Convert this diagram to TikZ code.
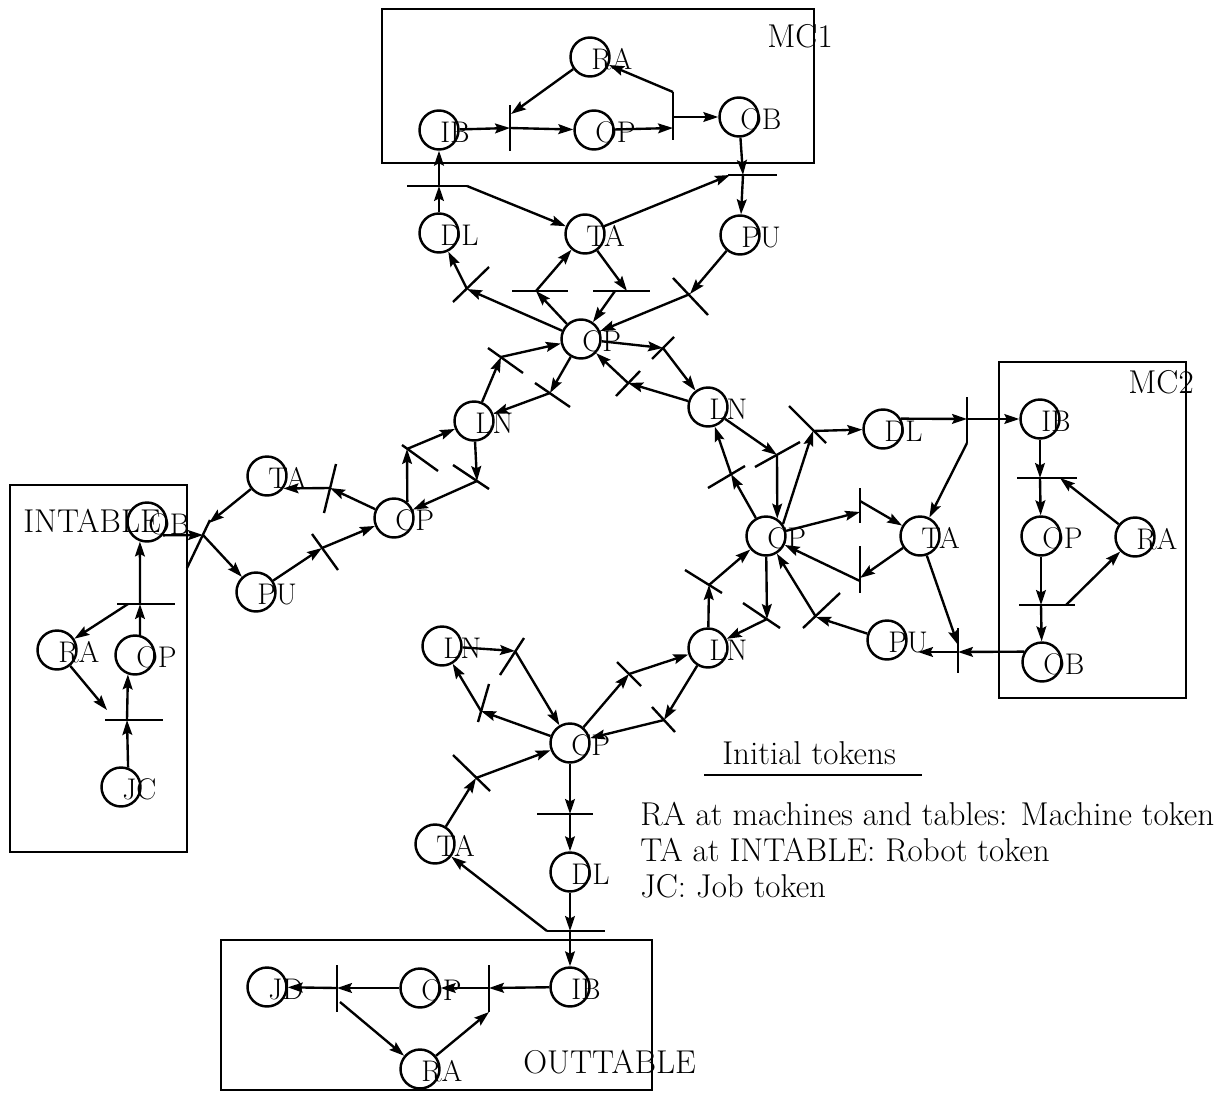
\documentclass[tikz,border=0pt]{standalone}
\usepackage{fontspec}
\usetikzlibrary{arrows.meta}
\tikzset{
  pl/.style={circle, draw, line width=1.4pt, minimum size=0.78cm, inner sep=0pt},
  plabel/.style={anchor=base west, inner sep=0pt, font=\fontsize{17}{20}\selectfont},
  pa/.style={line width=1.35pt, -{Stealth[length=8.5pt,width=5.6pt,inset=1.4pt]}},
  tb/.style={line width=1.35pt},
  pbox/.style={line width=1.1pt},
  txt/.style={anchor=base west, inner sep=0pt, font=\fontsize{18.8}{22}\selectfont},
}
\newcommand\mkplace[4]{%
  \node[pl] (#1) at (#2,#3) {};
  \node[plabel] (#1-l) at ({#2+1},{#3+12}) {#4};}
\begin{document}
\begin{tikzpicture}[x=0.02cm,y=-0.02cm]
\useasboundingbox (0,0) rectangle (1227,1092);
% ---------------- boxes ----------------
\draw[pbox] (382,9) rectangle (814,163);
\draw[pbox] (10,485) rectangle (187,852);
\draw[pbox] (999,362) rectangle (1186,698);
\draw[pbox] (221,940) rectangle (652,1090);
\node[txt] (mc1l) at (767,47) {MC1};
\node[txt] (mc2l) at (1128,393) {MC2};
\node[txt] (intl) at (23,532) {INTABLE};
\node[txt] (outl) at (523,1073) {OUTTABLE};
% ---------------- places ----------------
\mkplace{RA1}{590}{57}{RA}
\mkplace{IB1}{439}{130}{IB}
\mkplace{OP1}{594}{130}{OP}
\mkplace{OB1}{739}{117}{OB}
\mkplace{DL1}{439}{233}{DL}
\mkplace{TA1}{585}{234}{TA}
\mkplace{PU1}{740}{235}{PU}
\mkplace{CPt}{581}{339}{CP}
\mkplace{LNul}{474}{421}{LN}
\mkplace{LNur}{708}{407}{LN}
\mkplace{CPl}{394}{518}{CP}
\mkplace{CPr}{766}{536}{CP}
\mkplace{LNll}{442}{646}{LN}
\mkplace{LNlr}{708}{648}{LN}
\mkplace{CPb}{570}{743}{CP}
\mkplace{TAl}{267}{476}{TA}
\mkplace{PUl}{256}{592}{PU}
\mkplace{DLr}{883}{429}{DL}
\mkplace{TAr}{920}{536}{TA}
\mkplace{PUr}{887}{640}{PU}
\mkplace{TAb}{435}{844}{TA}
\mkplace{DLb}{570}{872}{DL}
\mkplace{OBi}{147}{522}{OB}
\mkplace{RAi}{57}{650}{RA}
\mkplace{OPi}{135}{655}{OP}
\mkplace{JCi}{121}{787}{JC}
\mkplace{IBr}{1040}{419}{IB}
\mkplace{OPr}{1041}{536}{OP}
\mkplace{RAr}{1135}{537}{RA}
\mkplace{OBr}{1042}{662}{OB}
\mkplace{IBo}{570}{987}{IB}
\mkplace{OPo}{420}{988}{OP}
\mkplace{JDo}{267}{987}{JD}
\mkplace{RAo}{420}{1069}{RA}
% ---------------- transitions (coordinates) ----------------
\coordinate (t1a) at (510,105); \coordinate (t1b) at (510,151); \coordinate (t1j) at (510,128); \coordinate (t1r) at (511,114);
\coordinate (t2a) at (673,92); \coordinate (t2b) at (673,140); \coordinate (t2i) at (673,128); \coordinate (t2o) at (673,117);
\coordinate (t3a) at (407,186); \coordinate (t3b) at (467,186); \coordinate (t3j) at (439,186);
\coordinate (t4a) at (728,175); \coordinate (t4b) at (777,175); \coordinate (t4l) at (730,175); \coordinate (t4j) at (743,175);
\coordinate (t5a) at (453,302); \coordinate (t5b) at (489,267); \coordinate (t5j) at (467,289);
\coordinate (t6a) at (512,291); \coordinate (t6b) at (568,291); \coordinate (t6j) at (536,291);
\coordinate (t7a) at (593,291); \coordinate (t7b) at (650,291); \coordinate (t7i) at (627,291); \coordinate (t7o) at (615,291);
\coordinate (t8a) at (673,278); \coordinate (t8b) at (708,315); \coordinate (t8j) at (690,294);
\coordinate (t9a) at (652,359); \coordinate (t9b) at (674,337); \coordinate (t9j) at (663,348);
\coordinate (t10a) at (616,396); \coordinate (t10b) at (640,371); \coordinate (t10j) at (628,383);
\coordinate (t11a) at (488,348); \coordinate (t11b) at (523,373); \coordinate (t11j) at (501,357);
\coordinate (t12a) at (535,383); \coordinate (t12b) at (570,407); \coordinate (t12j) at (550,393);
\coordinate (t13a) at (402,445); \coordinate (t13b) at (438,471); \coordinate (t13j) at (407,449);
\coordinate (t14a) at (453,465); \coordinate (t14b) at (489,489); \coordinate (t14j) at (477,481);
\coordinate (t15a) at (336,464); \coordinate (t15b) at (324,513); \coordinate (t15j) at (330,488);
\coordinate (t16a) at (312,534); \coordinate (t16b) at (338,570); \coordinate (t16j) at (322,548);
\coordinate (t17a) at (187,568); \coordinate (t17b) at (210,520); \coordinate (t17j) at (203,535); \coordinate (t17t) at (209,523);
\coordinate (t18a) at (117,604); \coordinate (t18b) at (175,604); \coordinate (t18j) at (140,604); \coordinate (t18k) at (128,604);
\coordinate (t19a) at (105,720); \coordinate (t19b) at (163,720); \coordinate (t19j) at (127,720); \coordinate (t19r) at (107,710);
\coordinate (t20a) at (789,406); \coordinate (t20b) at (826,443); \coordinate (t20j) at (813,431);
\coordinate (t21a) at (755,467); \coordinate (t21b) at (800,442); \coordinate (t21j) at (777,455);
\coordinate (t22a) at (708,488); \coordinate (t22b) at (745,466); \coordinate (t22j) at (731,474);
\coordinate (t23a) at (860,488); \coordinate (t23b) at (860,523); \coordinate (t23i) at (860,512); \coordinate (t23o) at (860,501);
\coordinate (t24a) at (860,546); \coordinate (t24b) at (860,593); \coordinate (t24i) at (860,578); \coordinate (t24o) at (860,581);
\coordinate (t25a) at (967,397); \coordinate (t25b) at (967,443); \coordinate (t25j) at (967,419);
\coordinate (t26a) at (1017,478); \coordinate (t26b) at (1077,478); \coordinate (t26j) at (1040,478); \coordinate (t26r) at (1060,478);
\coordinate (t27a) at (1019,605); \coordinate (t27b) at (1075,605); \coordinate (t27j) at (1041,605); \coordinate (t27r) at (1066,605);
\coordinate (t28a) at (958,628); \coordinate (t28b) at (958,673); \coordinate (t28j) at (958,652); \coordinate (t28t) at (958,645); \coordinate (t28p) at (918,652);
\coordinate (t29a) at (803,628); \coordinate (t29b) at (840,593); \coordinate (t29j) at (816,617);
\coordinate (t30a) at (743,603); \coordinate (t30b) at (780,628); \coordinate (t30j) at (767,619);
\coordinate (t31a) at (685,570); \coordinate (t31b) at (722,593); \coordinate (t31j) at (709,585);
\coordinate (t32a) at (500,675); \coordinate (t32b) at (524,638); \coordinate (t32j) at (515,651);
\coordinate (t33a) at (478,722); \coordinate (t33b) at (489,684); \coordinate (t33j) at (481,711);
\coordinate (t34a) at (617,662); \coordinate (t34b) at (641,686); \coordinate (t34j) at (629,674);
\coordinate (t35a) at (652,707); \coordinate (t35b) at (675,732); \coordinate (t35j) at (664,720);
\coordinate (t36a) at (453,755); \coordinate (t36b) at (490,791); \coordinate (t36j) at (476,778);
\coordinate (t37a) at (537,814); \coordinate (t37b) at (593,814); \coordinate (t37j) at (570,814);
\coordinate (t38a) at (547,931); \coordinate (t38b) at (605,931); \coordinate (t38j) at (570,931);
\coordinate (t39a) at (489,965); \coordinate (t39b) at (489,1012); \coordinate (t39j) at (489,988);
\coordinate (t40a) at (337,965); \coordinate (t40b) at (337,1012); \coordinate (t40j) at (337,988); \coordinate (t40d) at (340,1002);
\foreach \t in {1,...,40} {\draw[tb] (t\t a) -- (t\t b);}
% ---------------- arcs ----------------
% MC1
\draw[pa] (IB1) -- (t1j);
\draw[pa] (RA1) -- (t1r);
\draw[pa] (t1j) -- (OP1);
\draw[pa] (OP1) -- (t2i);
\draw[pa] (t2o) -- (OB1);
\draw[pa] (t2a) -- (RA1);
\draw[pa] (DL1) -- (t3j);
\draw[pa] (t3j) -- (IB1);
\draw[pa] (t3b) -- (TA1);
\draw[pa] (TA1) -- (t4l);
\draw[pa] (OB1) -- (t4j);
\draw[pa] (t4j) -- (PU1);
% top CP
\draw[pa] (CPt) -- (t5j);
\draw[pa] (t5j) -- (DL1);
\draw[pa] (CPt) -- (t6j);
\draw[pa] (t6j) -- (TA1);
\draw[pa] (TA1) -- (t7i);
\draw[pa] (t7o) -- (CPt);
\draw[pa] (PU1) -- (t8j);
\draw[pa] (t8j) -- (CPt);
\draw[pa] (CPt) -- (t9j);
\draw[pa] (t9j) -- (LNur);
\draw[pa] (LNur) -- (t10j);
\draw[pa] (t10j) -- (CPt);
\draw[pa] (LNul) -- (t11j);
\draw[pa] (t11j) -- (CPt);
\draw[pa] (CPt) -- (t12j);
\draw[pa] (t12j) -- (LNul);
% left CP
\draw[pa] (CPl.50) -- (t13j);
\draw[pa] (t13j) -- (LNul);
\draw[pa] (LNul) -- (t14j);
\draw[pa] (t14j) -- (CPl);
\draw[pa] (CPl) -- (t15j);
\draw[pa] (t15j) -- (TAl.-37);
\draw[pa] (PUl) -- (t16j);
\draw[pa] (t16j) -- (CPl);
\draw[pa] (OBi.-40) -- (t17j);
\draw[pa] (TAl) -- (t17t);
\draw[pa] (t17j) -- (PUl);
% INTABLE
\draw[pa] (OPi.76) -- (t18j);
\draw[pa] (t18j) -- (OBi.-110);
\draw[pa] (t18k) -- (RAi);
\draw[pa] (RAi) -- (t19r);
\draw[pa] (JCi.70) -- (t19j);
\draw[pa] (t19j) -- (OPi.-110);
% right CP
\draw[pa] (CPr.35) -- (t20j);
\draw[pa] (t20j) -- (DLr);
\draw[pa] (LNur) -- (t21j);
\draw[pa] (t21j) -- (CPr.57);
\draw[pa] (CPr) -- (t22j);
\draw[pa] (t22j) -- (LNur);
\draw[pa] (CPr) -- (t23i);
\draw[pa] (t23o) -- (TAr);
\draw[pa] (TAr) -- (t24i);
\draw[pa] (t24o) -- (CPr);
\draw[pa] (DLr.30) -- (t25j);
\draw[pa] (t25j) -- (IBr);
\draw[pa] (t25b) -- (TAr);
\draw[pa] (IBr) -- (t26j);
\draw[pa] (t26j) -- (OPr);
\draw[pa] (RAr) -- (t26r);
\draw[pa] (OPr) -- (t27j);
\draw[pa] (t27j) -- (OBr);
\draw[pa] (t27r) -- (RAr);
\draw[pa] (OBr.150) -- (t28j);
\draw[pa] (t28j) -- (t28p);
\draw[pa] (TAr) -- (t28t);
\draw[pa] (PUr) -- (t29j);
\draw[pa] (t29j) -- (CPr);
\draw[pa] (CPr) -- (t30j);
\draw[pa] (t30j) -- (LNlr);
\draw[pa] (LNlr) -- (t31j);
\draw[pa] (t31j) -- (CPr);
% bottom CP
\draw[pa] (LNll) -- (t32j);
\draw[pa] (t32j) -- (CPb);
\draw[pa] (CPb) -- (t33j);
\draw[pa] (t33j) -- (LNll);
\draw[pa] (CPb) -- (t34j);
\draw[pa] (t34j) -- (LNlr);
\draw[pa] (LNlr) -- (t35j);
\draw[pa] (t35j) -- (CPb);
\draw[pa] (TAb) -- (t36j);
\draw[pa] (t36j) -- (CPb);
\draw[pa] (CPb) -- (t37j);
\draw[pa] (t37j) -- (DLb);
\draw[pa] (DLb) -- (t38j);
\draw[pa] (t38j) -- (IBo);
\draw[pa] (t38a) -- (TAb);
% OUTTABLE
\draw[pa] (IBo) -- (t39j);
\draw[pa] (t39j) -- (OPo);
\draw[pa] (RAo) -- (t39b);
\draw[pa] (OPo) -- (t40j);
\draw[pa] (t40j) -- (JDo);
\draw[pa] (t40d) -- (RAo);
% ---------------- legend ----------------
\node[txt] (leg0) at (722,764) {Initial tokens};
\coordinate (ul1) at (704,775); \coordinate (ul2) at (922,775);
\draw[pbox] (ul1) -- (ul2);
\node[txt] (leg1) at (640,825) {RA at machines and tables: Machine token};
\node[txt] (leg2) at (640,861) {TA at INTABLE: Robot token};
\node[txt] (leg3) at (640,897) {JC: Job token};
\end{tikzpicture}
\end{document}
